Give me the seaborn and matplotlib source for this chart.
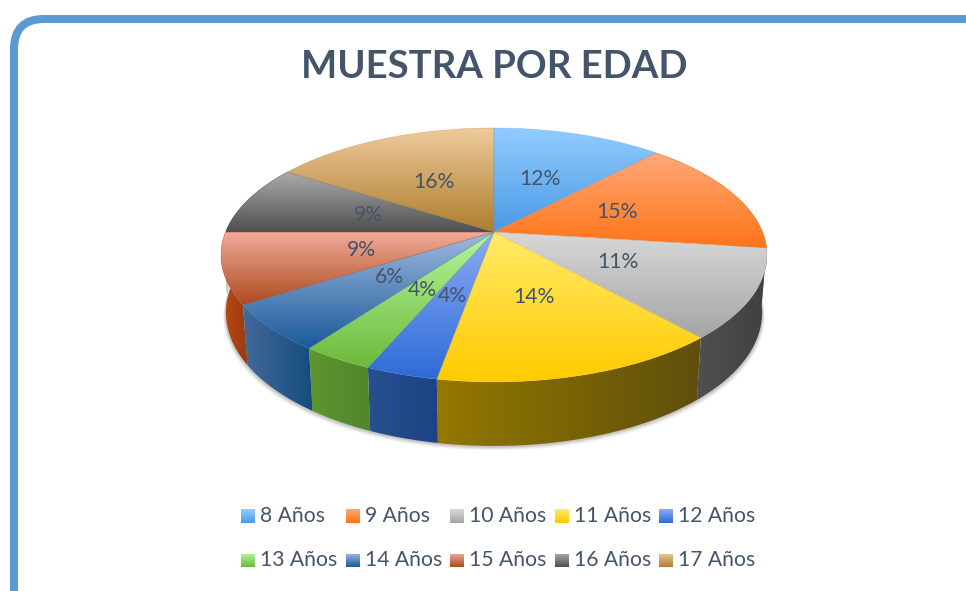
import numpy as np
import seaborn as sns
from matplotlib import pyplot as plt
from matplotlib.patches import FancyBboxPatch, Polygon, Rectangle

edades = ['8 Años', '9 Años', '10 Años', '11 Años', '12 Años',
          '13 Años', '14 Años', '15 Años', '16 Años', '17 Años']
porcentajes = [12, 15, 11.4, 14.4, 3.6, 3.6, 6, 9, 9, 16]
claros = ['#92ccff', '#ffa878', '#d8d8d8', '#ffea68', '#8cacf6',
          '#b6f69c', '#a2badf', '#f1ab99', '#ababab', '#efca9b']
oscuros = ['#4a9ae6', '#ff7417', '#a5a5a5', '#ffcb00', '#2e6bd6',
           '#6cba3b', '#1a5a9b', '#ae4a1f', '#4f4f4f', '#ad7e2e']
lado_izq = ['#3d7fbe', '#c05a12', '#505050', '#947800', '#27508f',
            '#5f9632', '#44699c', '#bd4a14', '#3e3e3e', '#85602a']
lado_der = ['#2f6ca6', '#a04a0c', '#404040', '#5f4f0c', '#1c4384',
            '#4f862a', '#134d7c', '#973c10', '#333333', '#6f5020']

TITULO = 'MUESTRA POR EDAD'
TEXTO = '#44546a'
CX, CY = 494, 232
K, A, B = 0.181, 122.8, 268.5

sns.set_theme(style='white')
plt.rcParams['font.family'] = ['Lato', 'DejaVu Sans']


def proyectar(x, y):
    w = 1 + K * y
    return CX + B * x / w, CY - A * y / w


def borde(theta1, theta2):
    t = np.radians(np.linspace(theta1, theta2, 80))
    return proyectar(np.cos(t), np.sin(t))


def inferior(theta1, theta2):
    t = np.radians(np.linspace(theta1, theta2, 80))
    x, y = proyectar(np.cos(t), np.sin(t))
    return CX + (x - CX) * 0.982, y + 56 - 8 * np.sin(t)


def degradado(ax, xs, ys, c1, c2, vertical=True):
    # imagen con degradado recortada a la forma del sector
    cmap = sns.blend_palette([c1, c2], n_colors=128, as_cmap=True)
    g = np.linspace(0, 1, 128)
    g = g[:, None] if vertical else g[None, :]
    forma = Polygon(np.column_stack([xs, ys]), closed=True, facecolor='none', edgecolor='none')
    ax.add_patch(forma)
    im = ax.imshow(g, cmap=cmap, aspect='auto', interpolation='bilinear', vmin=0, vmax=1,
                   extent=(min(xs), max(xs), max(ys), min(ys)), zorder=forma.get_zorder())
    im.set_clip_path(forma)
    return im


fig = plt.figure(figsize=(9.66, 5.91), dpi=100)
ax = fig.add_axes([0, 0, 1, 1])

wedges = ax.pie(porcentajes, startangle=90, counterclock=False)[0]
for w in wedges:
    w.set_visible(False)
ax.set_aspect('auto')

# marco redondeado
ax.add_patch(FancyBboxPatch((14, 19), 980, 620, boxstyle='round,pad=0,rounding_size=30',
                            facecolor='white', edgecolor='#5b9bd5', linewidth=5.8, zorder=0))

# sombra bajo el pastel
xb, yb = inferior(180, 360)
for off, alpha in [(4.5, 0.05), (3.5, 0.08), (2.5, 0.1), (1.5, 0.14)]:
    ax.fill(np.r_[xb + np.sign(xb - CX) * off * 0.6, xb[::-1]], np.r_[yb + off, yb[::-1] - 30],
            color='#555555', alpha=alpha, lw=0, zorder=1)

# lateral
for i, w in enumerate(wedges):
    xs, ys = borde(w.theta1, w.theta2)
    xi, yi = inferior(w.theta1, w.theta2)
    if np.sin(np.radians((w.theta1 + w.theta2) / 2)) > 0.45:
        continue
    im = degradado(ax, np.r_[xs, xi[::-1]], np.r_[ys, yi[::-1]], lado_izq[i], lado_der[i], vertical=False)
    im.set_zorder(2)

# cara superior
for i, w in enumerate(wedges):
    xs, ys = borde(w.theta1, w.theta2)
    xs, ys = np.r_[CX, xs], np.r_[CY, ys]
    im = degradado(ax, xs, ys, claros[i], oscuros[i])
    im.set_zorder(3)
    ax.add_patch(Polygon(np.column_stack([xs, ys]), closed=True, facecolor='none',
                         edgecolor=oscuros[i], alpha=0.35, linewidth=0.5, zorder=3.5))
    m = np.radians((w.theta1 + w.theta2) / 2)
    lx, ly = proyectar(0.5 * np.cos(m), 0.5 * np.sin(m))
    ax.text(lx, ly, f'{round(porcentajes[i])}%', ha='center', va='center',
            fontsize=15.2, color=TEXTO, zorder=5)

ax.text(494, 67, TITULO, ha='center', va='center', fontsize=27.5, fontweight='bold', color=TEXTO)

# leyenda de dos filas
for i, edad in enumerate(edades):
    fila, col = divmod(i, 5)
    x0 = 241 + 104.6 * col
    y0 = 516 + 44.5 * fila
    im = degradado(ax, [x0, x0 + 14, x0 + 14, x0], [y0 - 7, y0 - 7, y0 + 7, y0 + 7], claros[i], oscuros[i])
    im.set_zorder(3)
    ax.text(x0 + 19, y0, edad, ha='left', va='center', fontsize=15.2, color=TEXTO)

ax.set_xlim(0, 966)
ax.set_ylim(591, 0)
ax.axis('off')
fig.savefig('out.png', dpi=100)
